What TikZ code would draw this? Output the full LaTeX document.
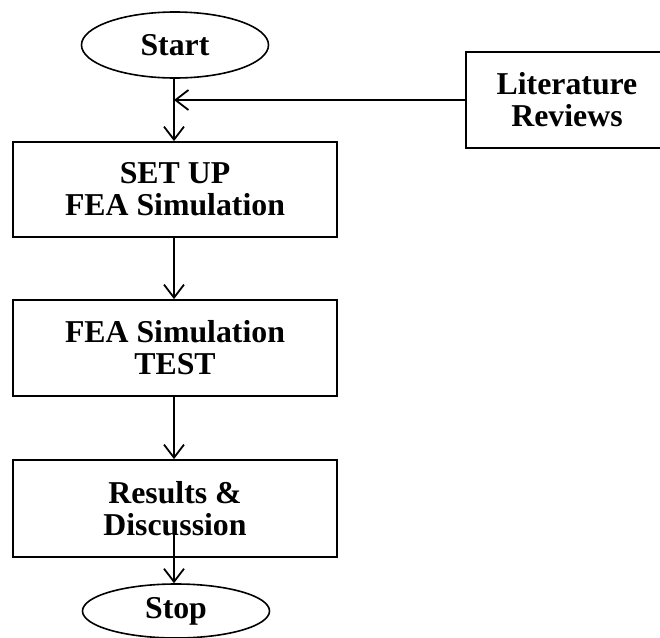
\documentclass[tikz,border=0pt]{standalone}
\usepackage{fontspec}
\setmainfont{Liberation Serif}
\usetikzlibrary{shapes.geometric,arrows.meta}
\tikzstyle{block}=[draw, rectangle, line width=0.9pt, minimum width=162pt, minimum height=48pt, align=center, inner sep=0pt]
\tikzstyle{term}=[draw, ellipse, line width=0.8pt, minimum width=93.5pt, inner sep=0pt]
\tikzstyle{flow}=[line width=0.9pt, -{Straight Barb[length=6.5pt,width=10pt]}]

\begin{document}
\begin{tikzpicture}[x=0.5pt, y=-0.5pt, every node/.style={font=\fontsize{15.9}{16}\selectfont\bfseries}]
        \useasboundingbox (0,0) rectangle (660,638);

        % Terminals at top and bottom
        \node (start) at (175,45) [term, minimum height=33pt] {Start};
        \node (stop) at (176,611) [term, minimum height=27pt] {Stop};

        % Main column of steps
        \node (setup) at (175,189.5) [block, minimum height=47.5pt] {SET UP\\FEA Simulation};
        \node (test) at (175,348) [block] {FEA Simulation\\TEST};
        \node (results) at (175,508.5) [block, minimum height=48.5pt] {Results \&\\Discussion};

        % Side input, partly cut off at the right edge
        \node (lit) at (567,100) [block, minimum width=101pt] {Literature\\Reviews};

        \coordinate (join) at (174,100);
        \coordinate (out) at (174,533);

        % Connect the steps top to bottom
        \draw[flow] (start.south -| join) -- (join |- setup.north);
        \draw[flow] (lit.west) -- (join);
        \draw[flow] (join |- setup.south) -- (join |- test.north);
        \draw[flow] (join |- test.south) -- (join |- results.north);
        \draw[flow] (out) -- (out |- stop.north);
\end{tikzpicture}
\end{document}
